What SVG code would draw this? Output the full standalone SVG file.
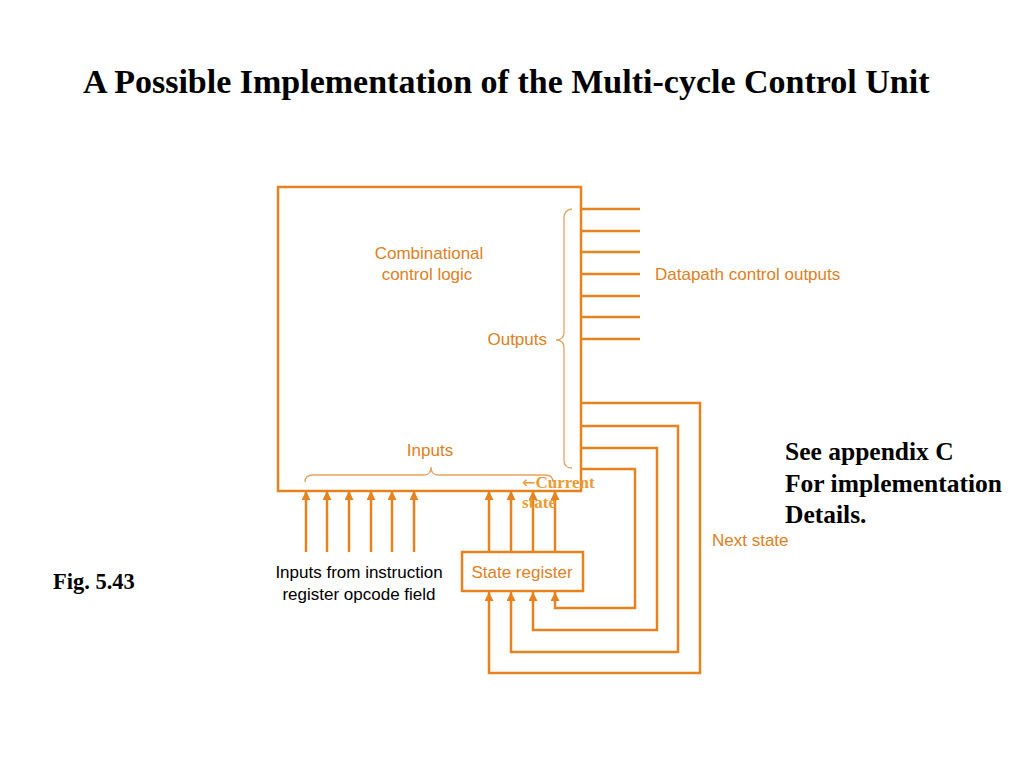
<svg xmlns="http://www.w3.org/2000/svg" width="1024" height="768" viewBox="0 0 1024 768">
<defs>
<marker id="ah" viewBox="0 0 10 10" refX="10" refY="5" markerWidth="9" markerHeight="9" markerUnits="userSpaceOnUse" orient="auto">
<path d="M0,0 L10,5 L0,10 Z" fill="#E8821E"/>
</marker>
<style>
.ln{stroke:#E8821E;stroke-width:2.5;fill:none}
.ar{stroke:#E8821E;stroke-width:2.5;fill:none;marker-end:url(#ah)}
.br{stroke:#EBA060;stroke-width:1.3;fill:none}
.ot{font-family:"Liberation Sans",Arial,sans-serif;font-size:17px;fill:#E0801E}
.bk{font-family:"Liberation Sans",Arial,sans-serif;font-size:17px;fill:#000}
.tb{font-family:"Liberation Serif","Times New Roman",serif;font-weight:bold;fill:#000}
.cs{font-family:"Liberation Serif","Times New Roman",serif;font-weight:bold;font-size:17px;fill:#EE9A30}
</style>
</defs>
<rect width="1024" height="768" fill="#fff"/>
<text class="tb" x="83" y="93" font-size="34">A Possible Implementation of the Multi-cycle Control Unit</text>
<g id="logic">
<rect x="278" y="187" width="303" height="304" class="ln"/>
<text class="ot" x="429" y="259" text-anchor="middle">Combinational</text>
<text class="ot" x="427" y="280" text-anchor="middle">control logic</text>
<path class="br" d="M572,209 Q564,210 564,218 L564,332 Q564,340 556,340 Q564,340 564,348 L564,460 Q564,468 572,468"/>
<text class="ot" x="547" y="345" text-anchor="end">Outputs</text>
<path class="br" d="M305,482 Q305,475 313,475 L424,475 Q431,475 431,467 Q431,475 438,475 L545,475 Q553,475 553,482"/>
<text class="ot" x="430" y="456" text-anchor="middle">Inputs</text>
</g>
<g id="state-register">
<rect x="462" y="552" width="121" height="39" class="ln"/>
<text class="ot" x="522" y="578" text-anchor="middle">State register</text>
</g>
<g id="connectors">
<path class="ln" d="M581,209H640M581,231H640M581,252H640M581,274H640M581,296H640M581,317H640M581,339H640"/>
<path class="ar" d="M306,552V491"/>
<path class="ar" d="M327,552V491"/>
<path class="ar" d="M349,552V491"/>
<path class="ar" d="M371,552V491"/>
<path class="ar" d="M392,552V491"/>
<path class="ar" d="M414,552V491"/>
<path class="ar" d="M489,552V491"/>
<path class="ar" d="M511,552V491"/>
<path class="ar" d="M533,552V491"/>
<path class="ar" d="M555,552V491"/>
<path class="ar" d="M581,403H700V673H489V592"/>
<path class="ar" d="M581,426H678V652H511V592"/>
<path class="ar" d="M581,448H657V630H533V592"/>
<path class="ar" d="M581,469H635V608H555V592"/>
</g>
<text class="ot" x="655" y="280">Datapath control outputs</text>
<text class="ot" x="712" y="546">Next state</text>
<text class="cs" x="522" y="488"><tspan font-family="'DejaVu Sans',sans-serif" font-weight="normal" font-size="16">←</tspan>Current</text>
<text class="cs" x="522" y="508">state</text>
<text class="bk" x="359" y="578" text-anchor="middle">Inputs from instruction</text>
<text class="bk" x="359" y="600" text-anchor="middle">register opcode field</text>
<text class="tb" x="785" y="460" font-size="25.5">See appendix C</text>
<text class="tb" x="785" y="492" font-size="25.5">For implementation</text>
<text class="tb" x="785" y="523" font-size="25.5">Details.</text>
<text class="tb" x="53" y="589" font-size="22.5">Fig. 5.43</text>
</svg>
